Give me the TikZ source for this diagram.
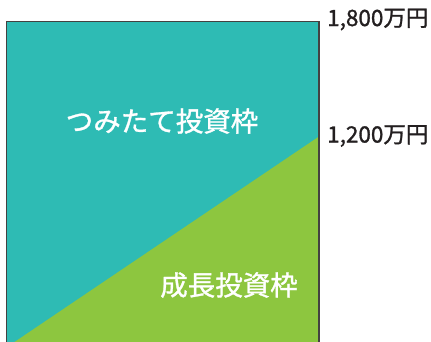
\documentclass[tikz,border=0pt]{standalone}
\usepackage{fontspec}
\setmainfont{Noto Sans CJK JP}
\newfontfamily\medfont[FakeBold=1.2]{Noto Sans CJK JP}
\definecolor{tealc}{HTML}{2EBBB4}
\definecolor{greenc}{HTML}{8DC63F}
\definecolor{txt}{HTML}{231F20}
\begin{document}
\begin{tikzpicture}[x=1pt,y=-1pt,
  box/.style={draw=txt!85,line width=1.3pt},
  inlabel/.style={text=white,font=\medfont\fontsize{27.5}{30}\selectfont,inner sep=0pt,anchor=center},
  amount/.style={text=txt,font=\medfont\fontsize{22.5}{24}\selectfont,inner sep=0pt,anchor=west}]
\useasboundingbox (0,0) rectangle (431,341);
\coordinate (tl) at (6.5,21.5);
\coordinate (tr) at (319,21.5);
\coordinate (br) at (319,343);
\coordinate (bl) at (6.5,343);
\coordinate (dstart) at (13,343);
\coordinate (dend) at (319,136.5);
\fill[tealc] (tl) rectangle (br);
\fill[greenc] (dstart) -- (dend) -- (br) -- cycle;
\draw[box] (bl) -- (tl) -- (tr) -- (br);
\node[inlabel] (tsumitate) at (162,121) {つみたて投資枠};
\node[inlabel] (seicho) at (229,285) {成長投資枠};
\node[amount] (a1800) at (327,19.5) {1,800万円};
\node[amount] (a1200) at (327,136) {1,200万円};
\end{tikzpicture}
\end{document}
